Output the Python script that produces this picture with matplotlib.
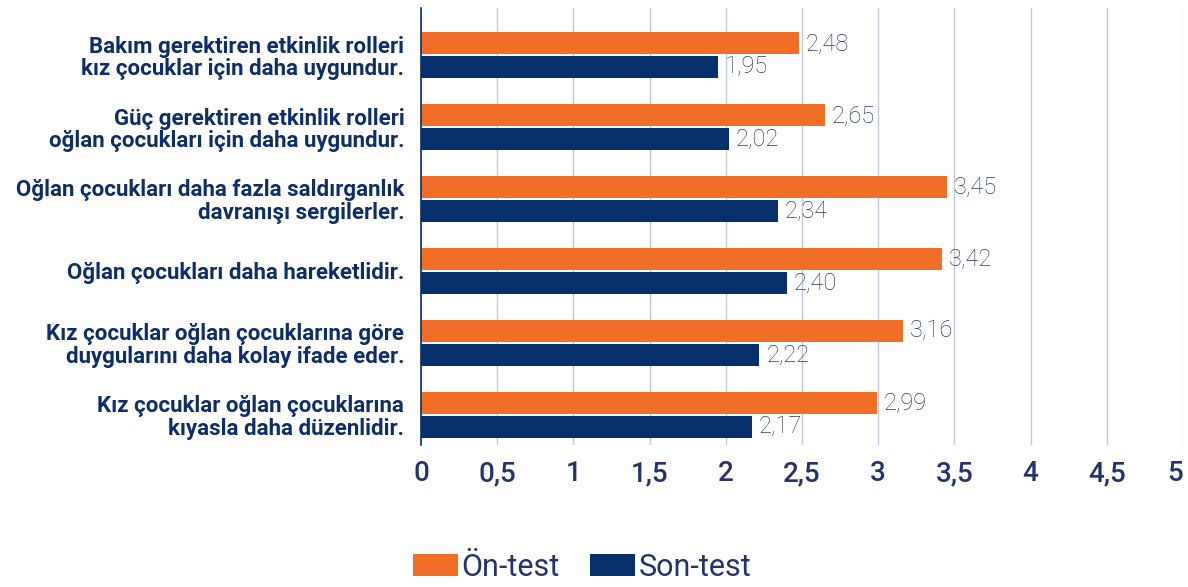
import matplotlib
matplotlib.use("Agg")
import matplotlib.pyplot as plt
import numpy as np
from matplotlib.patches import Patch

categories = [
    "Bakım gerektiren etkinlik rolleri\nkız çocuklar için daha uygundur.",
    "Güç gerektiren etkinlik rolleri\noğlan çocukları için daha uygundur.",
    "Oğlan çocukları daha fazla saldırganlık\ndavranışı sergilerler.",
    "Oğlan çocukları daha hareketlidir.",
    "Kız çocuklar oğlan çocuklarına göre\nduygularını daha kolay ifade eder.",
    "Kız çocuklar oğlan çocuklarına\nkıyasla daha düzenlidir.",
]
on_test = [2.48, 2.65, 3.45, 3.42, 3.16, 2.99]
son_test = [1.95, 2.02, 2.34, 2.40, 2.22, 2.17]
series_names = ["Ön-test", "Son-test"]
xticks = [0, 0.5, 1, 1.5, 2, 2.5, 3, 3.5, 4, 4.5, 5]
xtick_labels = ["0", "0,5", "1", "1,5", "2", "2,5", "3", "3,5", "4", "4,5", "5"]

ORANGE = "#F06E26"
NAVY = "#05306B"
TEXT_NAVY = "#0D2D6B"
TICK_COL = "#24336B"
VAL_COL = "#2E3A6B"
GRID = "#C3C8D8"

plt.rcParams['font.family'] = ['Roboto', 'DejaVu Sans']

fig = plt.figure(figsize=(11.88, 5.87), dpi=100)
ax = fig.add_axes([421/1188, 1-445/587, (1183-421)/1188, (445-8)/587])

y = np.arange(len(categories))
h = 0.30
off = 0.165
ax.barh(y - off, on_test, height=h, color=ORANGE, zorder=3)
ax.barh(y + off, son_test, height=h, color=NAVY, zorder=3)

for yi, v in zip(y, on_test):
    ax.text(v + 0.045, yi - off, f"{v:.2f}".replace(".", ","), va="center", ha="left",
            fontsize=17, color=VAL_COL, fontweight="light", zorder=4)
for yi, v in zip(y, son_test):
    ax.text(v + 0.045, yi + off, f"{v:.2f}".replace(".", ","), va="center", ha="left",
            fontsize=17, color=VAL_COL, fontweight="light", zorder=4)

ax.set_xlim(0, 5)
ax.set_ylim(len(categories) - 1 + 0.417, -0.653)
ax.set_xticks(xticks)
ax.set_xticklabels(xtick_labels, fontsize=20, color=TICK_COL, fontweight="medium")
ax.get_xticklabels()[-1].set_horizontalalignment("right")
ax.set_yticks(y)
ax.set_yticklabels(categories, fontsize=16, fontweight="bold", color=TEXT_NAVY,
                   linespacing=1.05)
ax.tick_params(axis="x", length=0, pad=11)
ax.tick_params(axis="y", length=0, pad=12)
ax.xaxis.grid(True, color=GRID, linewidth=1.0, zorder=0)
ax.set_axisbelow(True)
for s in ["top", "right", "bottom"]:
    ax.spines[s].set_visible(False)
ax.spines["left"].set_color(NAVY)
ax.spines["left"].set_linewidth(1.2)
ax.spines["left"].set_zorder(5)

handles = [Patch(facecolor=ORANGE, label=series_names[0]),
           Patch(facecolor=NAVY, label=series_names[1])]
leg = fig.legend(handles=handles, loc="center", bbox_to_anchor=(582/1188, 1-567/587),
                 ncol=2, frameon=False, fontsize=22, handlelength=1.47, handleheight=0.72,
                 handletextpad=0.12, columnspacing=1.0)
for t in leg.get_texts():
    t.set_color(TICK_COL)

fig.savefig("out.png", dpi=100)
